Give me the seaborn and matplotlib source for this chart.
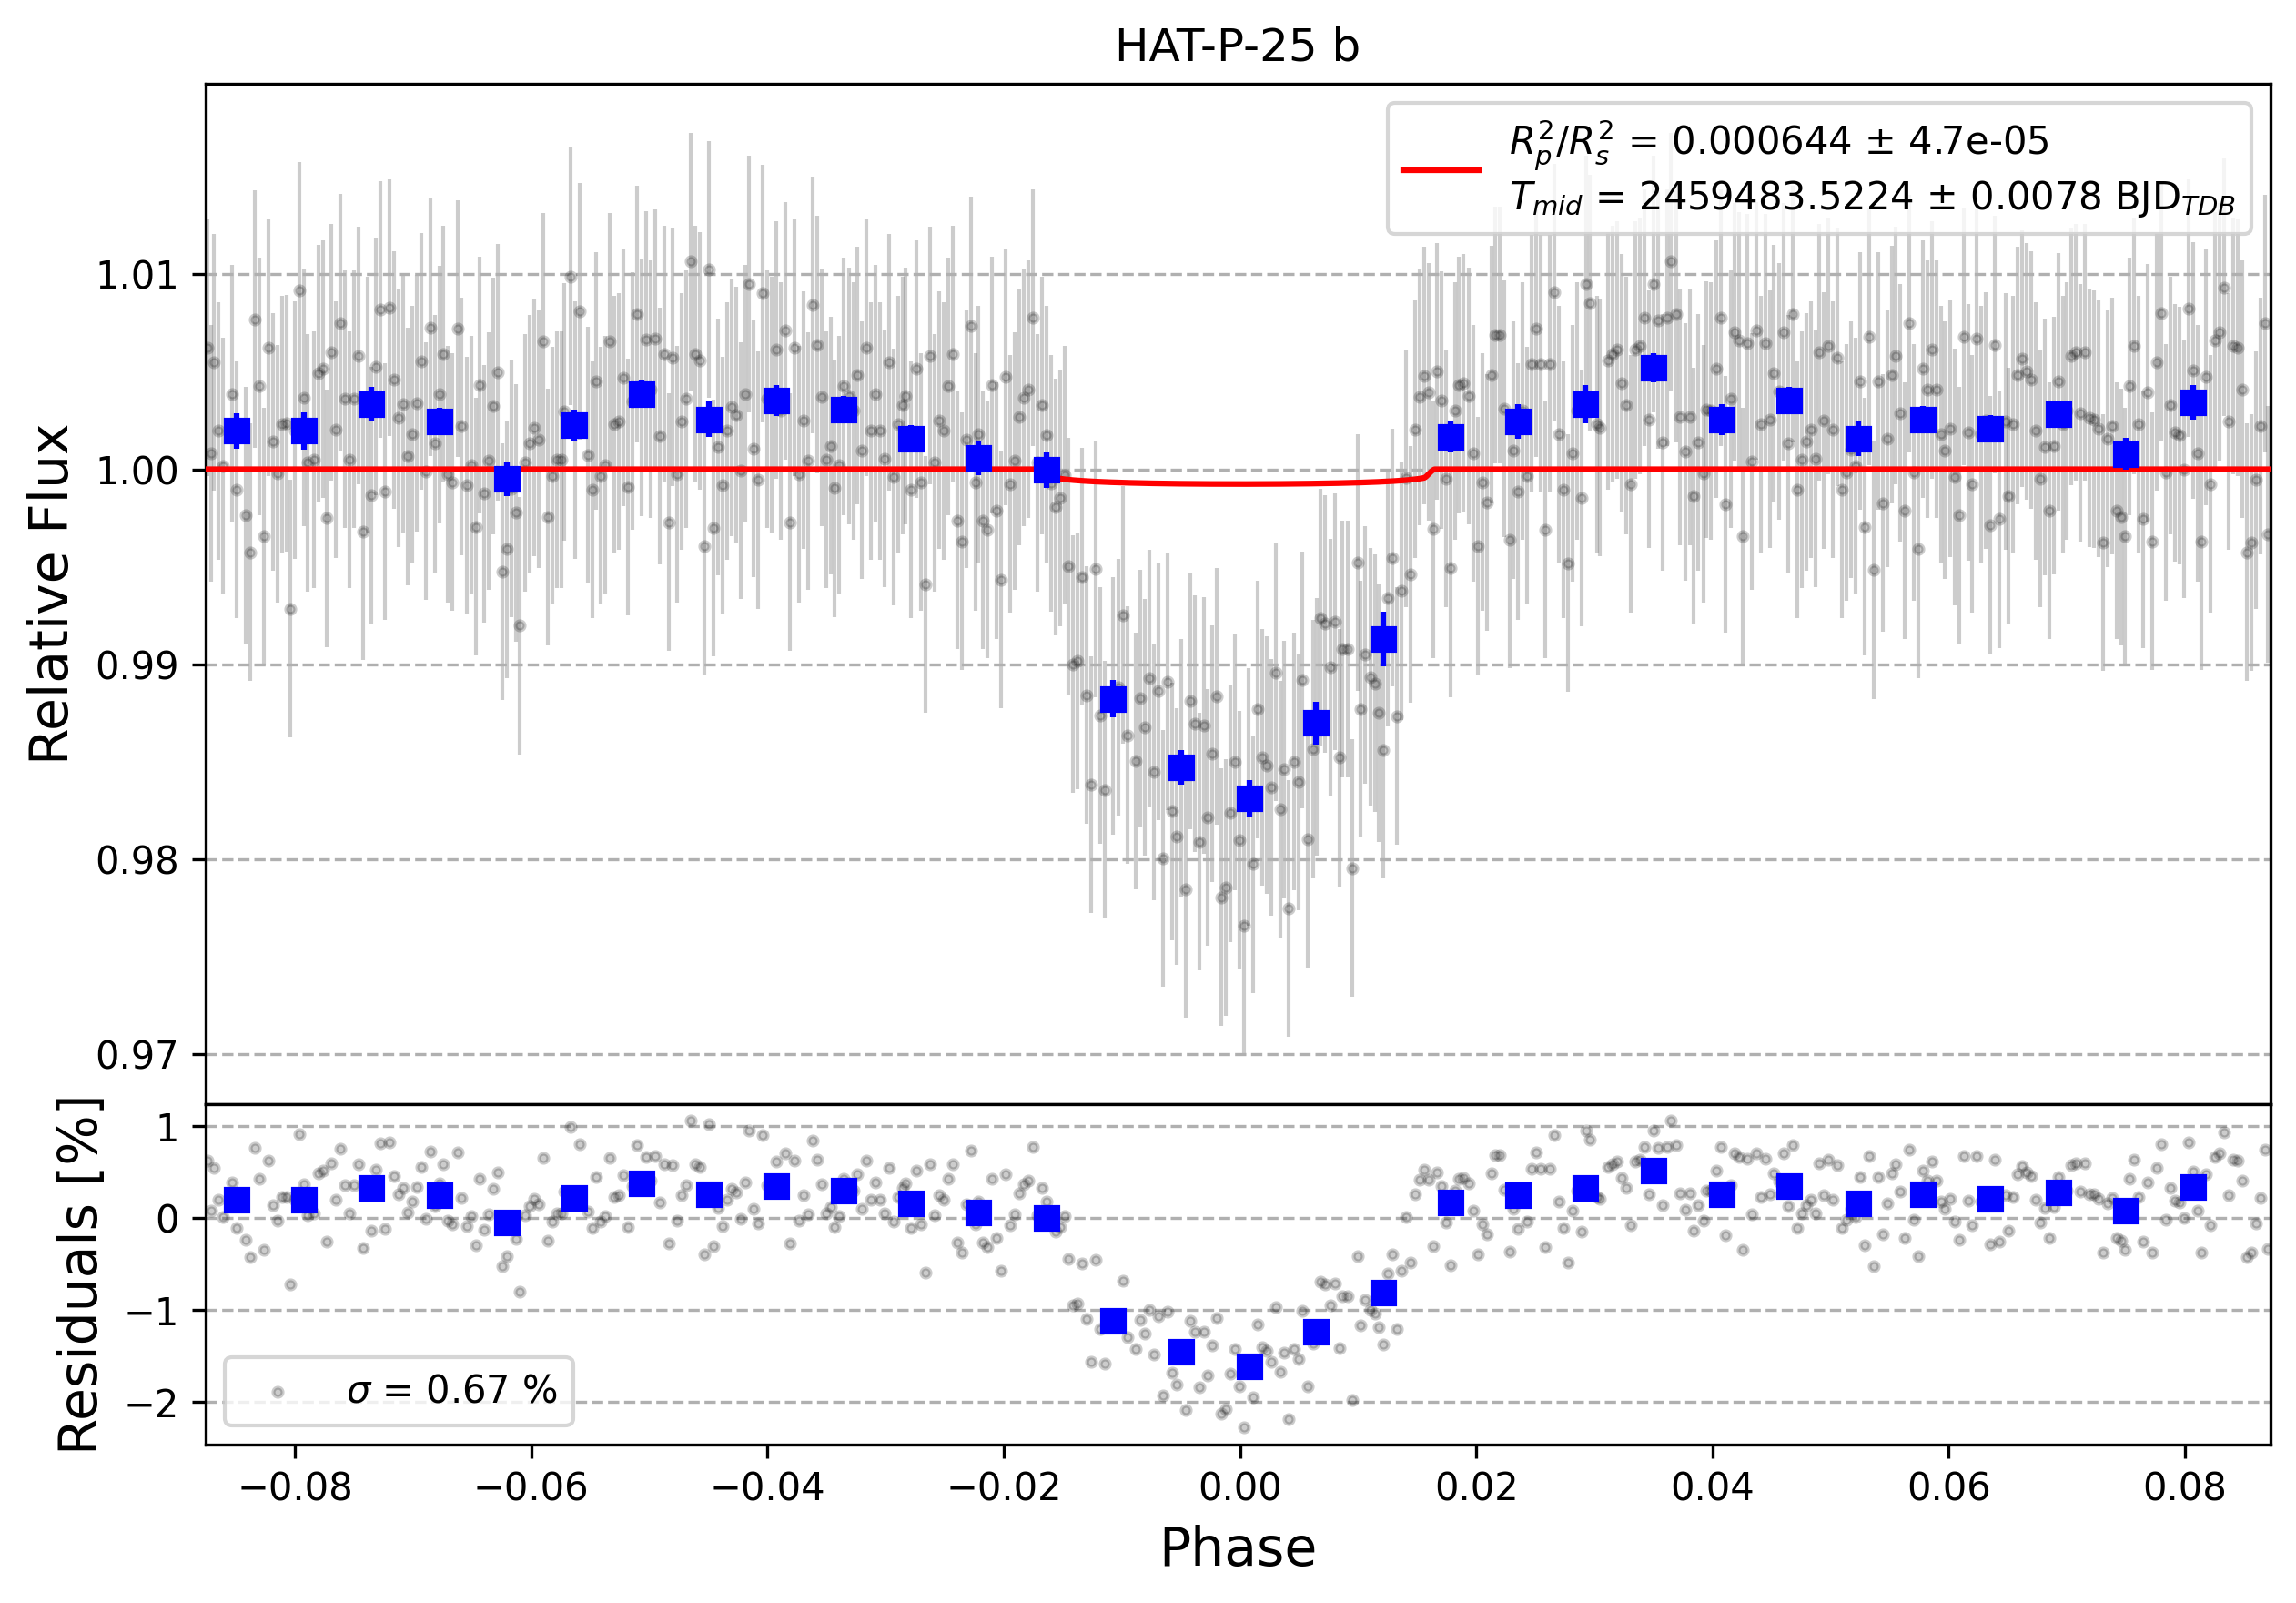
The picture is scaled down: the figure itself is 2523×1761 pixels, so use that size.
import numpy as np
import matplotlib
matplotlib.use("Agg")
import matplotlib.pyplot as plt
import seaborn as sns

# ---------------- text / fit results ----------------
planet_name = "HAT-P-25 b"
rprs2 = 0.000644
rprs2_err = 4.7e-05
tmid = 2459483.5224
tmid_err = 0.0078
sigma_pct = 0.67

# ---------------- unbinned data (phase, residual in %) ----------------
phase = np.array([
    -0.08738, -0.08712, -0.08686, -0.08648, -0.08609, -0.08532, -0.08494, -0.08417, -0.08378, -0.08340,
    -0.08301, -0.08263, -0.08224, -0.08186, -0.08147, -0.08109, -0.08070, -0.08039, -0.08000, -0.07960,
    -0.07921, -0.07890, -0.07839, -0.07801, -0.07762, -0.07729, -0.07690, -0.07652, -0.07616, -0.07575,
    -0.07536, -0.07498, -0.07459, -0.07420, -0.07386, -0.07351, -0.07313, -0.07274, -0.07236, -0.07197,
    -0.07159, -0.07120, -0.07081, -0.07043, -0.07004, -0.06966, -0.06927, -0.06889, -0.06850, -0.06812,
    -0.06773, -0.06748, -0.06709, -0.06671, -0.06624, -0.06588, -0.06547, -0.06509, -0.06470, -0.06434,
    -0.06396, -0.06357, -0.06319, -0.06280, -0.06242, -0.06203, -0.06164, -0.06126, -0.06101, -0.06054,
    -0.06016, -0.05977, -0.05939, -0.05900, -0.05862, -0.05823, -0.05785, -0.05746, -0.05720, -0.05669,
    -0.05630, -0.05592, -0.05520, -0.05481, -0.05450, -0.05412, -0.05373, -0.05335, -0.05296, -0.05258,
    -0.05219, -0.05181, -0.05142, -0.05104, -0.05065, -0.05027, -0.04988, -0.04950, -0.04911, -0.04873,
    -0.04834, -0.04801, -0.04765, -0.04726, -0.04688, -0.04647, -0.04608, -0.04570, -0.04534, -0.04492,
    -0.04454, -0.04415, -0.04377, -0.04338, -0.04300, -0.04261, -0.04223, -0.04184, -0.04153, -0.04115,
    -0.04076, -0.04038, -0.03999, -0.03961, -0.03922, -0.03884, -0.03845, -0.03807, -0.03768, -0.03730,
    -0.03691, -0.03653, -0.03614, -0.03576, -0.03537, -0.03499, -0.03460, -0.03429, -0.03391, -0.03352,
    -0.03306, -0.03272, -0.03237, -0.03198, -0.03160, -0.03121, -0.03083, -0.03044, -0.03006, -0.02967,
    -0.02929, -0.02895, -0.02857, -0.02831, -0.02785, -0.02742, -0.02703, -0.02665, -0.02626, -0.02588,
    -0.02549, -0.02510, -0.02472, -0.02433, -0.02395, -0.02356, -0.02318, -0.02279, -0.02241, -0.02215,
    -0.02177, -0.02138, -0.02100, -0.02061, -0.02023, -0.01984, -0.01946, -0.01907, -0.01868, -0.01830,
    -0.01791, -0.01753, -0.01714, -0.01676, -0.01637, -0.01599, -0.01560, -0.01522, -0.01483, -0.01450,
    -0.01411, -0.01373, -0.01334, -0.01296, -0.01257, -0.01219, -0.01180, -0.01142, -0.01072, -0.01031,
    -0.00990, -0.00949, -0.00880, -0.00841, -0.00803, -0.00764, -0.00726, -0.00687, -0.00649, -0.00610,
    -0.00572, -0.00533, -0.00495, -0.00456, -0.00418, -0.00379, -0.00341, -0.00302, -0.00271, -0.00233,
    -0.00194, -0.00156, -0.00117, -0.00079, -0.00040, -0.00001, 0.00037, 0.00076, 0.00109, 0.00148,
    0.00192, 0.00230, 0.00269, 0.00302, 0.00346, 0.00374, 0.00412, 0.00456, 0.00495, 0.00528,
    0.00572, 0.00623, 0.00652, 0.00682, 0.00721, 0.00764, 0.00803, 0.00841, 0.00867, 0.00911,
    0.00952, 0.00995, 0.01021, 0.01060, 0.01103, 0.01142, 0.01175, 0.01214, 0.01252, 0.01291,
    0.01329, 0.01368, 0.01406, 0.01445, 0.01483, 0.01522, 0.01560, 0.01599, 0.01637, 0.01668,
    0.01707, 0.01745, 0.01786, 0.01821, 0.01856, 0.01894, 0.01938, 0.01979, 0.02017, 0.02056,
    0.02092, 0.02133, 0.02164, 0.02202, 0.02241, 0.02287, 0.02318, 0.02356, 0.02395, 0.02433,
    0.02472, 0.02511, 0.02549, 0.02588, 0.02626, 0.02665, 0.02703, 0.02742, 0.02780, 0.02819,
    0.02857, 0.02896, 0.02934, 0.02965, 0.03024, 0.03049, 0.03113, 0.03152, 0.03191, 0.03229,
    0.03268, 0.03306, 0.03345, 0.03383, 0.03422, 0.03460, 0.03504, 0.03542, 0.03581, 0.03614,
    0.03648, 0.03691, 0.03725, 0.03768, 0.03807, 0.03840, 0.03879, 0.03922, 0.03948, 0.03990,
    0.04033, 0.04071, 0.04110, 0.04154, 0.04187, 0.04225, 0.04256, 0.04295, 0.04333, 0.04372,
    0.04410, 0.04449, 0.04487, 0.04521, 0.04562, 0.04603, 0.04641, 0.04680, 0.04718, 0.04757,
    0.04795, 0.04834, 0.04873, 0.04906, 0.04945, 0.04983, 0.05019, 0.05060, 0.05096, 0.05137,
    0.05176, 0.05214, 0.05250, 0.05291, 0.05327, 0.05366, 0.05404, 0.05443, 0.05481, 0.05520,
    0.05553, 0.05592, 0.05630, 0.05669, 0.05707, 0.05746, 0.05784, 0.05823, 0.05861, 0.05900,
    0.05938, 0.05964, 0.06016, 0.06054, 0.06093, 0.06131, 0.06170, 0.06201, 0.06239, 0.06273,
    0.06314, 0.06355, 0.06393, 0.06432, 0.06483, 0.06509, 0.06547, 0.06586, 0.06624, 0.06663,
    0.06702, 0.06740, 0.06779, 0.06817, 0.06850, 0.06889, 0.06927, 0.06966, 0.07002, 0.07038,
    0.07076, 0.07115, 0.07153, 0.07192, 0.07231, 0.07269, 0.07308, 0.07346, 0.07385, 0.07423,
    0.07462, 0.07495, 0.07531, 0.07569, 0.07608, 0.07647, 0.07685, 0.07724, 0.07762, 0.07801,
    0.07839, 0.07878, 0.07916, 0.07955, 0.07993, 0.08032, 0.08070, 0.08109, 0.08142, 0.08181,
    0.08219, 0.08258, 0.08296, 0.08335, 0.08373, 0.08409, 0.08448, 0.08486, 0.08525, 0.08563,
    0.08602, 0.08640, 0.08679, 0.08705,
])

residual_pct = np.array([
    0.623, 0.082, 0.548, 0.197, 0.016, 0.387, -0.105, -0.236, -0.426, 0.770,
    0.426, -0.344, 0.623, 0.141, -0.023, 0.230, 0.236, -0.715, 0.200, 0.918,
    0.367, 0.033, 0.049, 0.492, 0.515, -0.252, 0.600, 0.203, 0.751, 0.361,
    0.049, 0.361, 0.584, -0.321, 0.330, -0.134, 0.525, 0.820, -0.115, 0.830,
    0.459, 0.262, 0.334, 0.066, 0.180, 0.338, 0.554, -0.010, 0.728, 0.131,
    0.384, 0.590, -0.026, -0.066, 0.721, 0.220, -0.082, 0.023, -0.295, 0.433,
    -0.125, 0.043, 0.325, 0.498, -0.525, -0.410, -0.100, -0.223, -0.803, 0.033,
    0.131, 0.213, 0.154, 0.656, -0.246, -0.033, 0.049, 0.049, 0.295, 0.990,
    0.200, 0.810, 0.072, -0.105, 0.452, -0.033, 0.023, 0.656, 0.230, 0.246,
    0.469, -0.092, 0.350, 0.797, 0.420, 0.666, 0.410, 0.672, 0.170, 0.590,
    -0.272, 0.574, -0.026, 0.246, 0.361, 1.066, 0.590, 0.557, -0.393, 1.026,
    -0.302, 0.115, -0.082, 0.197, 0.318, 0.279, -0.007, 0.387, 0.951, 0.105,
    -0.056, 0.902, 0.361, 0.330, 0.613, 0.300, 0.711, -0.272, 0.623, -0.026,
    0.252, 0.043, 0.843, 0.639, 0.370, 0.049, 0.121, -0.098, 0.023, 0.426,
    0.377, 0.300, 0.482, 0.098, 0.623, 0.197, 0.387, 0.197, 0.056, 0.548,
    -0.039, 0.230, 0.328, 0.377, -0.105, 0.515, -0.066, -0.590, 0.584, 0.033,
    0.252, 0.197, 0.426, 0.590, -0.262, -0.370, 0.154, 0.738, -0.066, 0.180,
    -0.262, -0.311, 0.433, -0.213, -0.567, 0.475, -0.075, 0.043, 0.269, 0.367,
    0.410, 0.777, 0.033, 0.328, 0.180, -0.049, -0.150, -0.098, 0.023, -0.443,
    -0.944, -0.925, -0.492, -1.098, -1.557, -0.449, -1.200, -1.580, -1.148, -1.050,
    -0.679, -1.295, -1.426, -1.105, -1.252, -1.000, -1.482, -1.066, -1.925, -1.016,
    -1.682, -1.810, -1.459, -2.082, -1.115, -1.230, -1.836, -1.239, -1.711, -1.384,
    -1.089, -2.121, -2.072, -1.689, -1.426, -1.826, -2.269, -1.607, -1.951, -1.157,
    -1.403, -1.443, -1.557, -0.967, -1.672, -1.466, -2.180, -1.426, -1.531, -1.007,
    -1.826, -1.361, -1.250, -0.689, -0.721, -0.944, -0.711, -1.410, -0.852, -0.852,
    -1.977, -0.410, -1.164, -0.885, -1.000, -1.033, -1.187, -1.377, -0.597, -0.393,
    -1.207, -0.567, 0.010, -0.485, 0.256, 0.420, 0.525, 0.420, -0.305, 0.502,
    0.354, -0.049, -0.508, 0.300, 0.433, 0.443, 0.377, 0.082, -0.393, -0.066,
    -0.170, 0.485, 0.689, 0.689, 0.311, -0.361, 0.098, -0.115, 0.300, -0.033,
    0.541, 0.721, 0.541, -0.311, 0.541, 0.908, 0.180, -0.105, -0.482, 0.082,
    0.300, -0.148, 0.951, 0.852, 0.230, 0.213, 0.557, 0.590, 0.613, 0.443,
    0.328, -0.075, 0.613, 0.633, 0.777, 0.256, 0.951, 0.764, 0.138, 0.777,
    1.066, 0.797, 0.269, 0.089, 0.269, -0.138, 0.138, -0.023, 0.305, 0.300,
    0.515, 0.777, -0.180, 0.361, 0.705, 0.662, -0.344, 0.649, 0.039, 0.711,
    0.230, 0.649, 0.256, 0.492, 0.400, 0.705, 0.131, 0.797, -0.105, 0.049,
    0.141, 0.203, 0.056, 0.600, 0.250, 0.633, 0.203, 0.574, -0.105, -0.016,
    0.100, 0.016, 0.452, -0.295, 0.679, -0.518, 0.452, -0.174, 0.157, 0.485,
    0.584, 0.289, -0.213, 0.748, -0.016, -0.410, 0.515, 0.410, 0.613, 0.410,
    0.180, 0.098, 0.207, -0.039, -0.236, 0.679, 0.190, -0.075, 0.672, 0.180,
    0.250, -0.285, 0.639, -0.256, 0.246, -0.138, 0.230, 0.482, 0.567, 0.502,
    0.459, 0.197, -0.049, 0.115, -0.213, 0.121, 0.449, 0.230, 0.300, 0.580,
    0.600, 0.289, 0.600, 0.262, 0.256, 0.207, -0.377, 0.157, 0.223, -0.213,
    -0.246, -0.344, 0.426, 0.633, 0.230, -0.256, 0.393, -0.370, 0.551, 0.803,
    -0.016, 0.328, 0.187, 0.174, 0.000, 0.826, 0.508, 0.082, -0.370, 0.475,
    -0.075, 0.662, 0.705, 0.934, 0.246, 0.633, 0.623, 0.410, -0.426, -0.377,
    -0.056, 0.223, 0.748, -0.334,
])
flux_err = 0.0066

# ---------------- binned data ----------------
bin_phase = np.array([
    -0.08491, -0.07921, -0.07351, -0.06773, -0.06203, -0.05633, -0.05063, -0.04492, -0.03922, -0.03352,
    -0.02783, -0.02213, -0.01635, -0.01072, -0.00495, 0.00079, 0.00646, 0.01216, 0.01786, 0.02356,
    0.02926, 0.03504, 0.04076, 0.04647, 0.05232, 0.05784, 0.06355, 0.06928, 0.07498, 0.08073,
])
bin_residual_pct = np.array([
    0.197, 0.197, 0.334, 0.246, -0.049, 0.226, 0.384, 0.256, 0.354, 0.305,
    0.157, 0.059, 0.000, -1.111, -1.456, -1.613, -1.230, -0.807, 0.167, 0.246,
    0.334, 0.521, 0.256, 0.354, 0.157, 0.256, 0.207, 0.285, 0.079, 0.344,
])
bin_flux_err = np.array([
    0.00091, 0.00095, 0.00089, 0.00070, 0.00089, 0.00080, 0.00070, 0.00090, 0.00080, 0.00070,
    0.00070, 0.00090, 0.00090, 0.00096, 0.00087, 0.00094, 0.00110, 0.00140, 0.00080, 0.00090,
    0.00100, 0.00075, 0.00080, 0.00070, 0.00090, 0.00070, 0.00070, 0.00070, 0.00080, 0.00090,
])

# ---------------- transit model parameters ----------------
a_rs = 9.48
impact = 0.30
u1, u2 = 0.40, 0.20


def transit_model(ph):
    ph = np.asarray(ph, dtype=float)
    k = np.sqrt(rprs2)
    cos_i = impact / a_rs
    ang = 2 * np.pi * ph
    z = a_rs * np.sqrt(np.sin(ang) ** 2 + (cos_i * np.cos(ang)) ** 2)
    frac = np.zeros_like(z)
    frac[z <= 1 - k] = 1.0
    part = (z > 1 - k) & (z < 1 + k)
    zp = z[part]
    t0 = np.arccos(np.clip((zp ** 2 + k ** 2 - 1) / (2 * zp * k), -1, 1))
    t1 = np.arccos(np.clip((zp ** 2 + 1 - k ** 2) / (2 * zp), -1, 1))
    sq = np.sqrt(np.clip((-zp + k + 1) * (zp + k - 1) * (zp - k + 1) * (zp + k + 1), 0, None))
    frac[part] = (k ** 2 * t0 + t1 - 0.5 * sq) / (np.pi * k ** 2)
    r = np.where(part, (z - k + 1) / 2, z)
    r = np.clip(r, 0, 1)
    mu = np.sqrt(1 - r ** 2)
    intensity = 1 - u1 * (1 - mu) - u2 * (1 - mu) ** 2
    mean_int = 1 - u1 / 3 - u2 / 6
    return 1 - rprs2 * frac * intensity / mean_int


flux = transit_model(phase) + residual_pct / 100.0
bin_flux = transit_model(bin_phase) + bin_residual_pct / 100.0

xlim = (-0.08756, 0.08725)
model_x = np.linspace(xlim[0], xlim[1], 3000)
model_y = transit_model(model_x)

# ---------------- figure ----------------
W, H, DPI = 2523, 1761, 300
fig = plt.figure(figsize=(W / DPI, H / DPI), dpi=DPI)
ax_lc = fig.add_axes([226 / W, 1 - 1213.3 / H, 2269 / W, 1121.6 / H])
ax_res = fig.add_axes([226 / W, 1 - 1586.7 / H, 2269 / W, 373.4 / H])

# light curve panel
ax_lc.errorbar(phase, flux, yerr=flux_err, fmt='none', ecolor='gray',
               elinewidth=1.0, alpha=0.4, zorder=1)
sns.scatterplot(x=phase, y=flux, ax=ax_lc, color='k', alpha=0.2, s=2.4 ** 2,
                edgecolor='k', linewidth=1.0, zorder=2, legend=False)
lc_label = (r"$R_{p}^{2}/R_{s}^{2}$ = " + f"{rprs2:.6f} ± {rprs2_err}" + "\n"
            + r"$T_{mid}$ = " + f"{tmid:.4f} ± {tmid_err:.4f} BJD" + r"$_{TDB}$")
sns.lineplot(x=model_x, y=model_y, ax=ax_lc, color='r', lw=1.5, label=lc_label,
             zorder=3, estimator=None, sort=False)
ax_lc.errorbar(bin_phase, bin_flux, yerr=bin_flux_err, fmt='s', color='b',
               ms=6, elinewidth=1.5, zorder=5)

ax_lc.set_xlim(*xlim)
ax_lc.set_ylim(0.9674, 1.0198)
ax_lc.set_ylabel('Relative Flux', fontsize=14)
ax_lc.set_title(planet_name)
ax_lc.grid(axis='y', ls='--')
ax_lc.tick_params(axis='x', which='both', bottom=False, labelbottom=False)
ax_lc.legend(loc='upper right')

# residual panel
sns.scatterplot(x=phase, y=residual_pct, ax=ax_res, color='k', alpha=0.2, s=2.4 ** 2,
                edgecolor='k', linewidth=1.0, zorder=2,
                label=r"$\sigma$ = " + f"{sigma_pct:.2f} %")
ax_res.plot(bin_phase, bin_residual_pct, 's', color='b', ms=6, zorder=5)
ax_res.set_xlim(*xlim)
ax_res.set_ylim(-2.459, 1.238)
ax_res.set_xlabel('Phase', fontsize=14)
ax_res.set_ylabel('Residuals [%]', fontsize=14)
ax_res.grid(axis='y', ls='--')
ax_res.legend(loc='lower left')

fig.savefig('out.png', dpi=DPI)
